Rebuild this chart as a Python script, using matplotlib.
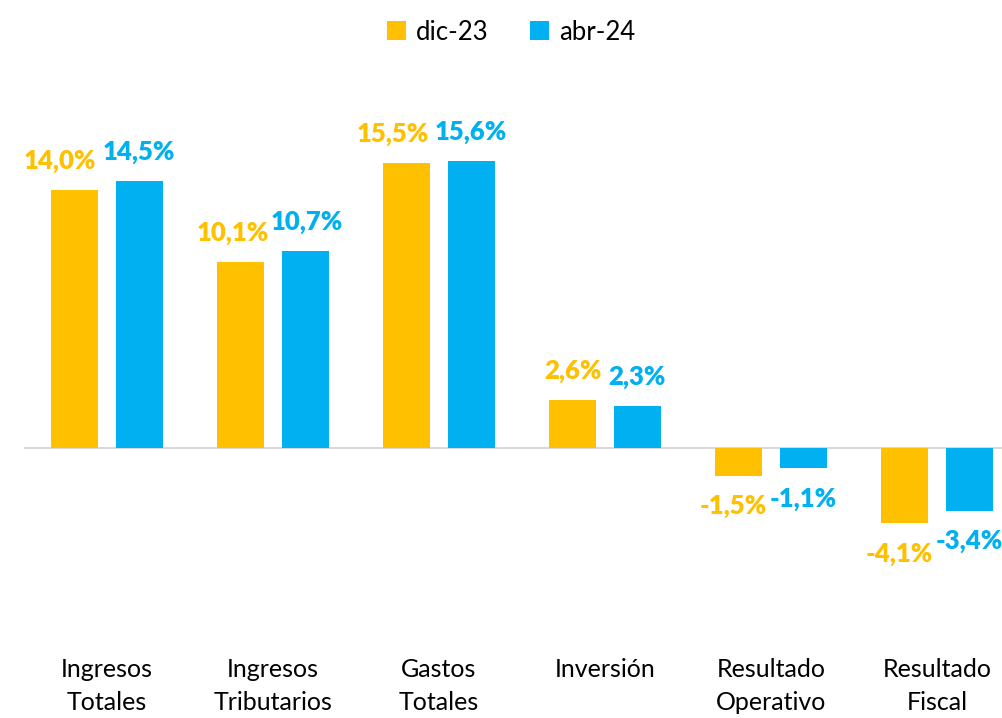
import matplotlib.pyplot as plt
import numpy as np

plt.rcParams['font.family'] = ['Lato', 'DejaVu Sans']

categorias = ['Ingresos\nTotales', 'Ingresos\nTributarios', 'Gastos\nTotales',
              'Inversión', 'Resultado\nOperativo', 'Resultado\nFiscal']
dic23 = [14.0, 10.1, 15.5, 2.6, -1.5, -4.1]
abr24 = [14.5, 10.7, 15.6, 2.3, -1.1, -3.4]
series = ['dic-23', 'abr-24']

amarillo = '#FFC000'
azul = '#00B0F0'

# horizontal nudges (points) Excel applied to avoid label overlaps
dx_dic = [-11, -6, -10, 0, -4, -4]
dx_abr = [0, 1, 0, 0, 0, 0]

fig = plt.figure(figsize=(10.02, 7.18), dpi=100)
ax = fig.add_axes([24 / 1002, 0.171, 996 / 1002, 0.6663])

x = np.arange(len(categorias))
w = 0.283
off = 0.193
b1 = ax.bar(x - off, dic23, w, color=amarillo, label=series[0])
b2 = ax.bar(x + off, abr24, w, color=azul, label=series[1])

ax.axhline(0, color='#D9D9D9', lw=1.5, zorder=0)

def etiquetas(barras, vals, dxs, color):
    for b, v, dx in zip(barras, vals, dxs):
        cx = b.get_x() + b.get_width() / 2
        dy = 21 if v >= 0 else -22
        ax.annotate(f'{v:.1f}%'.replace('.', ','), (cx, v), xytext=(dx, dy),
                    textcoords='offset points', ha='center', va='center',
                    color=color, fontsize=18.5, fontweight='heavy')

etiquetas(b1, dic23, dx_dic, amarillo)
etiquetas(b2, abr24, dx_abr, azul)

ax.set_xlim(-0.5, 5.5)
ax.set_ylim(-8, 18)
ax.set_xticks(x)
ax.set_xticklabels(categorias, fontsize=18, linespacing=1.55)
ax.tick_params(axis='x', length=0, pad=45)
ax.set_yticks([])
for s in ax.spines.values():
    s.set_visible(False)

fig.legend(loc='upper center', bbox_to_anchor=(0.51, 1.005), ncol=2, frameon=False,
           fontsize=18.5, handlelength=0.75, handleheight=0.75, handletextpad=0.4,
           columnspacing=1.6)

fig.savefig('out.png', dpi=100)
